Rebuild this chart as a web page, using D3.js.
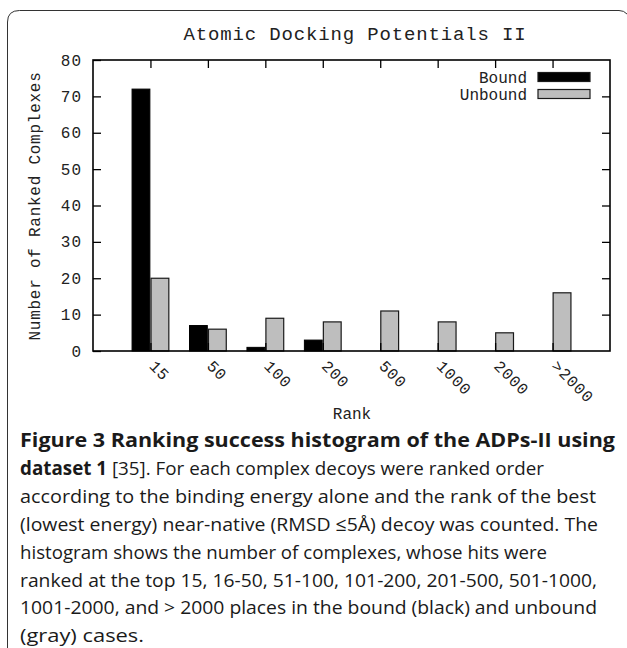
<!DOCTYPE html>
<html>
<head>
<meta charset="utf-8">
<script src="https://cdn.jsdelivr.net/npm/d3@7"></script>
<style>
  html, body { margin: 0; padding: 0; background: #fff; }
  svg { display: block; }
</style>
</head>
<body>
<svg id="chart" width="627" height="648"></svg>
<script>
// ---- data ----
const categories = ["15", "50", "100", "200", "500", "1000", "2000", ">2000"];
const boundValues = [72, 7, 1, 3, 0, 0, 0, 0];
const unboundValues = [20, 6, 9, 8, 11, 8, 5, 16];
const seriesNames = ["Bound", "Unbound"];
const yTicks = [0, 10, 20, 30, 40, 50, 60, 70, 80];
const chartTitle = "Atomic Docking Potentials II";
const xTitle = "Rank";
const yTitle = "Number of Ranked Complexes";
const captionLines = [
  [["Figure 3 Ranking success histogram of the ADPs-II using", true]],
  [["dataset 1", true], [" [35]. For each complex decoys were ranked order", false]],
  [["according to the binding energy alone and the rank of the best", false]],
  [["(lowest energy) near-native (RMSD \u22645\u00C5) decoy was counted. The", false]],
  [["histogram shows the number of complexes, whose hits were", false]],
  [["ranked at the top 15, 16-50, 51-100, 101-200, 201-500, 501-1000,", false]],
  [["1001-2000, and > 2000 places in the bound (black) and unbound", false]],
  [["(gray) cases.", false]]
];
const captionWidths = [595, 524, 576, 578, 527, 577, 577, 124];

(function () {
const svg = d3.select("#chart");
const mono = "'Liberation Mono', 'DejaVu Sans Mono', monospace";
const pL = 93, pR = 610, pT = 60, pB = 351;

// frame
svg.append("path")
  .attr("d", "M7.5,648 L7.5,22 Q7.5,10.5 19.5,10.5 L619,10.5 Q624,10.5 627,14")
  .attr("fill", "none").attr("stroke", "#333").attr("stroke-width", 1);

const x = d3.scaleLinear().domain([-1, categories.length]).range([pL, pR]);
const y = d3.scaleLinear().domain([0, 80]).range([pB, pT]);

const barW = 0.31;
const g = svg.append("g");

g.selectAll("rect.bound").data(boundValues).join("rect")
  .attr("class", "bound")
  .attr("x", (d, i) => x(i - 0.32))
  .attr("width", x(barW) - x(0))
  .attr("y", d => y(d))
  .attr("height", d => y(0) - y(d))
  .attr("fill", "#000").attr("stroke", "#000").attr("stroke-width", 1);

g.selectAll("rect.unbound").data(unboundValues).join("rect")
  .attr("class", "unbound")
  .attr("x", (d, i) => x(i + 0.01))
  .attr("width", x(barW) - x(0))
  .attr("y", d => y(d))
  .attr("height", d => y(0) - y(d))
  .attr("fill", "#bebebe").attr("stroke", "#1a1a1a").attr("stroke-width", 1.2);

const tickLen = 8;
const xIdx = d3.range(categories.length);
const axes = svg.append("g");
axes.append("g").attr("transform", `translate(${pL},0)`)
  .call(d3.axisRight(y).tickValues(yTicks).tickSize(tickLen).tickFormat(""))
  .call(a => a.select(".domain").remove());
axes.append("g").attr("transform", `translate(${pR},0)`)
  .call(d3.axisLeft(y).tickValues(yTicks.slice(1, -1)).tickSize(tickLen).tickFormat(""))
  .call(a => a.select(".domain").remove());
axes.append("g").attr("transform", `translate(0,${pT})`)
  .call(d3.axisBottom(x).tickValues(xIdx).tickSize(tickLen).tickFormat(""))
  .call(a => a.select(".domain").remove());
axes.append("g").attr("transform", `translate(0,${pB})`)
  .call(d3.axisTop(x).tickValues(xIdx).tickSize(tickLen).tickFormat(""))
  .call(a => a.select(".domain").remove());
axes.selectAll(".tick line").attr("stroke", "#000").attr("stroke-width", 1.3);

svg.append("rect").attr("x", pL).attr("y", pT)
  .attr("width", pR - pL).attr("height", pB - pT)
  .attr("fill", "none").attr("stroke", "#000").attr("stroke-width", 1.6);

svg.append("g").selectAll("text").data(yTicks).join("text")
  .attr("x", pL - 11).attr("y", d => y(d)).attr("dy", "0.35em")
  .attr("text-anchor", "end")
  .attr("font-family", mono).attr("font-size", 16).attr("fill", "#222")
  .attr("letter-spacing", 1)
  .text(d => d);

svg.append("g").selectAll("text").data(categories).join("text")
  .attr("transform", (d, i) => `translate(${x(i) - 2},${pB + 16}) rotate(45)`)
  .attr("font-family", mono).attr("font-size", 16).attr("fill", "#222")
  .attr("letter-spacing", 0.8)
  .text(d => d);

svg.append("text").attr("x", 355).attr("y", 40).attr("text-anchor", "middle")
  .attr("font-family", mono).attr("font-size", 19).attr("fill", "#222")
  .attr("letter-spacing", 0.85)
  .text(chartTitle);
svg.append("text").attr("x", 352).attr("y", 419).attr("text-anchor", "middle")
  .attr("font-family", mono).attr("font-size", 16).attr("fill", "#222")
  .text(xTitle);
svg.append("text").attr("transform", `translate(40,206) rotate(-90)`).attr("text-anchor", "middle")
  .attr("font-family", mono).attr("font-size", 16).attr("fill", "#222")
  .attr("letter-spacing", 0.75)
  .text(yTitle);

const legendFill = ["#000", "#bebebe"];
const leg = svg.append("g");
seriesNames.forEach((name, i) => {
  const cy = 77 + i * 17;
  leg.append("text").attr("x", 527).attr("y", cy).attr("dy", "0.35em")
    .attr("text-anchor", "end").attr("font-family", mono).attr("font-size", 16)
    .attr("fill", "#222").text(name);
  leg.append("rect").attr("x", 538).attr("y", cy - 4.5).attr("width", 52).attr("height", 9)
    .attr("fill", legendFill[i]).attr("stroke", "#1a1a1a").attr("stroke-width", 1.2);
});

const cap = svg.append("g");
captionLines.forEach((parts, i) => {
  const t = cap.append("text").attr("x", 20).attr("y", 447 + i * 27.9)
    .attr("font-family", "'Open Sans', 'Noto Sans', sans-serif").attr("font-size", 19)
    .attr("fill", "#1a1a1a")
    .attr("textLength", captionWidths[i]).attr("lengthAdjust", "spacingAndGlyphs");
  parts.forEach(([s, b]) => {
    t.append("tspan").attr("font-weight", b ? "bold" : "normal").text(s);
  });
});
})();
</script>
</body>
</html>
